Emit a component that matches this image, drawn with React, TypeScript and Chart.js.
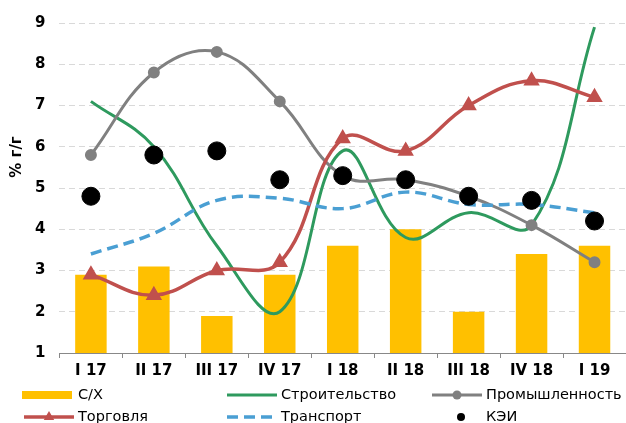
import React, { useEffect, useRef } from 'react';
import { Chart, registerables } from 'chart.js';

Chart.register(...registerables);

const categories = ['I 17', 'II 17', 'III 17', 'IV 17', 'I 18', 'II 18', 'III 18', 'IV 18', 'I 19'];
const agriculture = [2.9, 3.1, 1.9, 2.9, 3.6, 4.0, 2.0, 3.4, 3.6];
const construction = [7.1, 6.0, 3.6, 2.0, 5.9, 3.8, 4.4, 4.1, 8.9];
const industry = [5.8, 7.8, 8.3, 7.1, 5.3, 5.2, 4.8, 4.1, 3.2];
const trade = [2.9, 2.4, 3.0, 3.2, 6.2, 5.9, 7.0, 7.6, 7.2];
const transport = [3.4, 3.9, 4.7, 4.75, 4.5, 4.9, 4.6, 4.6, 4.4];
const kei = [4.8, 5.8, 5.9, 5.2, 5.3, 5.2, 4.8, 4.7, 4.2];
const yMin = 1;
const yMax = 9;
const yTitle = '% г/г';
const seriesNames = ['С/Х', 'Строительство', 'Промышленность', 'Торговля', 'Транспорт', 'КЭИ'];

const YELLOW = '#FFC000';
const GREEN = '#2E9A5E';
const GREY = '#808080';
const RED = '#C0504D';
const BLUE = '#4A9FD3';
const BLACK = '#000000';

const FONT = '"DejaVu Sans", Verdana, sans-serif';

const titlePlugin = {
  id: 'yTitle',
  afterDraw(chart: any) {
    const ctx = chart.ctx;
    ctx.save();
    ctx.translate(17, 157);
    ctx.rotate(-Math.PI / 2);
    ctx.font = 'bold 15px ' + FONT;
    ctx.fillStyle = '#000';
    ctx.textAlign = 'center';
    ctx.textBaseline = 'middle';
    ctx.fillText(yTitle, 0, 0);
    ctx.restore();
  },
};

const legendPlugin = {
  id: 'gridLegend',
  afterDraw(chart: any) {
    const ctx = chart.ctx;
    const ds = chart.data.datasets;
    const cols = [22, 225, 430];
    const rows = [395, 417];
    const swW = 50;
    ctx.save();
    ctx.font = '14.5px ' + FONT;
    ctx.textBaseline = 'middle';
    ctx.textAlign = 'left';
    ds.forEach((d: any, i: number) => {
      const c = cols[i % 3];
      const r = rows[Math.floor(i / 3)];
      const mid = c + swW / 2;
      if (d.type === 'bar') {
        ctx.fillStyle = d.backgroundColor;
        ctx.fillRect(c, r - 4, swW, 8);
      } else if (d.showLine === false) {
        ctx.fillStyle = d.backgroundColor;
        ctx.beginPath();
        ctx.arc(mid + 6, r, 4, 0, Math.PI * 2);
        ctx.fill();
      } else {
        ctx.strokeStyle = d.borderColor;
        ctx.lineWidth = d.borderWidth;
        ctx.setLineDash(d.borderDash || []);
        ctx.beginPath();
        ctx.moveTo(c + 2, r);
        ctx.lineTo(c + swW + 2, r);
        ctx.stroke();
        ctx.setLineDash([]);
        if (d.pointRadius > 0) {
          ctx.fillStyle = d.pointBackgroundColor || d.borderColor;
          ctx.beginPath();
          if (d.pointStyle === 'triangle') {
            const rr = 6;
            ctx.moveTo(mid + 2, r - rr);
            ctx.lineTo(mid + 2 + rr * 0.87, r + rr * 0.5);
            ctx.lineTo(mid + 2 - rr * 0.87, r + rr * 0.5);
            ctx.closePath();
          } else {
            ctx.arc(mid + 2, r, 4.5, 0, Math.PI * 2);
          }
          ctx.fill();
        }
      }
      ctx.fillStyle = '#000';
      ctx.fillText(d.label, c + swW + 6, r);
    });
    ctx.restore();
  },
};

export default function App() {
  const ref = useRef<HTMLCanvasElement>(null);
  useEffect(() => {
    if (!ref.current) return;
    const chart = new Chart(ref.current, {
      type: 'bar',
      data: {
        labels: categories,
        datasets: [
          {
            type: 'bar',
            label: seriesNames[0],
            data: agriculture,
            backgroundColor: YELLOW,
            borderWidth: 0,
            barPercentage: 0.5,
            categoryPercentage: 1,
            order: 10,
          },
          {
            type: 'line',
            label: seriesNames[1],
            data: construction,
            borderColor: GREEN,
            backgroundColor: GREEN,
            borderWidth: 3,
            pointRadius: 0,
            tension: 0.4,
            order: 5,
          },
          {
            type: 'line',
            label: seriesNames[2],
            data: industry,
            borderColor: GREY,
            backgroundColor: GREY,
            pointBackgroundColor: GREY,
            pointBorderColor: GREY,
            borderWidth: 3,
            pointRadius: 4.5,
            pointStyle: 'circle',
            tension: 0.4,
            order: 4,
          },
          {
            type: 'line',
            label: seriesNames[3],
            data: trade,
            borderColor: RED,
            backgroundColor: RED,
            pointBackgroundColor: RED,
            pointBorderColor: RED,
            borderWidth: 3.5,
            pointRadius: 6,
            pointStyle: 'triangle',
            tension: 0.4,
            order: 3,
          },
          {
            type: 'line',
            label: seriesNames[4],
            data: transport,
            borderColor: BLUE,
            backgroundColor: BLUE,
            borderWidth: 3.5,
            borderDash: [11, 6],
            pointRadius: 0,
            tension: 0.4,
            order: 2,
          },
          {
            type: 'line',
            label: seriesNames[5],
            data: kei,
            showLine: false,
            borderColor: BLACK,
            backgroundColor: BLACK,
            pointBackgroundColor: BLACK,
            pointBorderColor: BLACK,
            pointRadius: 9,
            order: 1,
          },
        ] as any,
      },
      options: {
        animation: false,
        responsive: false,
        devicePixelRatio: 1,
        layout: { autoPadding: false, padding: { left: 21, right: 0, top: 17, bottom: 39 } },
        plugins: {
          legend: { display: false },
          tooltip: { enabled: false },
        },
        scales: {
          x: {
            offset: true,
            grid: {
              offset: true,
              drawOnChartArea: false,
              drawTicks: true,
              tickLength: 5,
              color: '#888888',
            },
            border: { display: true, color: '#888888', width: 1 },
            ticks: {
              color: '#000',
              font: { family: FONT, size: 15, weight: 'bold' },
              padding: 4,
              maxRotation: 0,
            },
          },
          y: {
            min: yMin,
            max: yMax,
            ticks: {
              stepSize: 1,
              color: '#000',
              font: { family: FONT, size: 15, weight: 'bold' },
              padding: 14,
            },
            grid: { color: '#D9D9D9', drawTicks: false, lineWidth: 1 },
            border: { display: false, dash: [6, 4] },
          },
        },
      },
      plugins: [titlePlugin, legendPlugin],
    } as any);
    return () => chart.destroy();
  }, []);
  return (
    <div style={{ position: 'fixed', left: 0, top: 0, width: 626, height: 423, background: '#fff', overflow: 'hidden' }}>
      <canvas ref={ref} width={626} height={423} style={{ width: 626, height: 423, display: 'block' }} />
    </div>
  );
}
